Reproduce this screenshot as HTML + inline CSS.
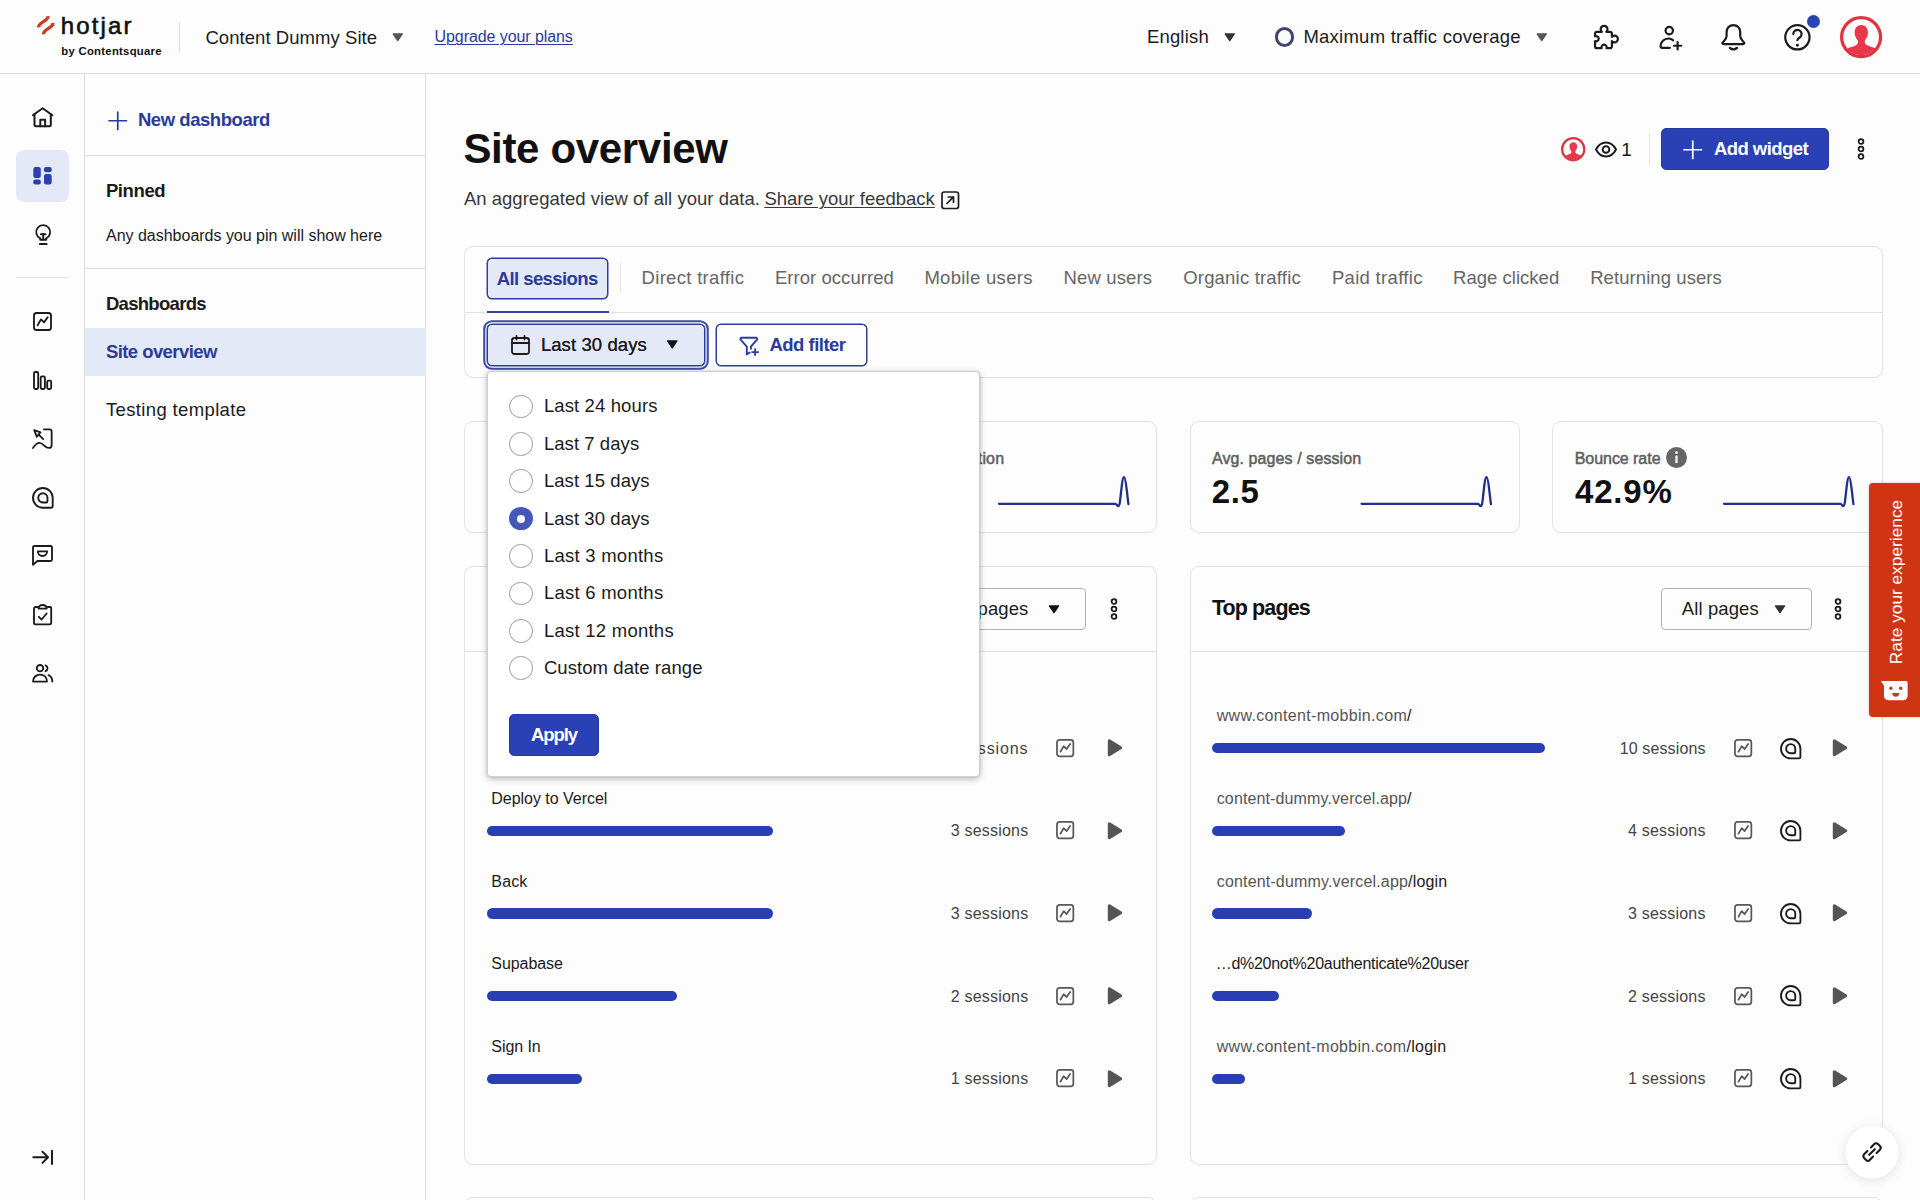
<!DOCTYPE html>
<html lang="en">
<head>
<meta charset="utf-8">
<title>Site overview - Hotjar</title>
<style>
*{box-sizing:border-box;margin:0;padding:0}
html,body{width:1920px;height:1200px;overflow:hidden;background:#fdfdfd}
body{font-family:"Liberation Sans",Arial,sans-serif;color:#1b1b1b;position:relative;-webkit-font-smoothing:antialiased}
.layer{position:absolute;left:0;top:0;width:1920px;height:1200px}
.t{position:absolute;white-space:nowrap;line-height:1;font-weight:400;margin:0;display:block}
h1.t,h2.t{font-weight:700}
.ic{position:absolute;overflow:visible;display:block}
.b{position:absolute;display:block}
.hl{position:absolute;height:1px;background:#e0e0e0}
.vl{position:absolute;width:1px;background:#e0e0e0}
.card{position:absolute;border:1px solid #e2e2e2;border-radius:9px;background:#fdfdfd}
.bar{position:absolute;height:10.5px;border-radius:6px;background:#2a3eb3}
.radio{position:absolute;width:23.5px;height:23.5px;border-radius:50%;border:1.5px solid #9a9a9a;background:#fff}
.radio.on{border:none;background:#4657bc}
.radio.on::after{content:"";position:absolute;left:7.75px;top:7.75px;width:8px;height:8px;border-radius:50%;background:#fff}
</style>
</head>
<body>
<main class="layer">
<header class="layer" aria-label="Page heading">
<svg class="ic" style="left:1560.6px;top:136.8px" width="24.4" height="24.4" viewBox="0 0 43 43"><defs><clipPath id="av1572"><circle cx="21.500" cy="21.500" r="17.92"/></clipPath></defs><circle cx="21.500" cy="21.500" r="19.56" fill="#fff" stroke="#e2323f" stroke-width="3.88"/><g clip-path="url(#av1572)" fill="#e8364a" stroke="none"><path d="M21.700 9.300C17.700 9.300 14.900 12.500 14.900 16.800c0 3.200 1.300 6 3.300 7.800v2.900c0 1.500-2.200 2.800-7.500 4.300-3.200 1-4.600 2.200-4.600 4.700V44h31.800v-7.500c0-2.500-1.400-3.700-4.700-4.700-5.200-1.500-7.900-2.800-7.900-4.300v-2.900c1.900-1.800 3.200-4.600 3.200-7.800 0-4.300-2.800-7.500-6.800-7.500z"/></g></svg>
<svg class="ic" style="left:1595px;top:140.5px" width="22" height="17" viewBox="0 0 22 17" fill="none" stroke="#1b1b1b" stroke-width="2" stroke-linecap="round" stroke-linejoin="round" ><path d="M1 8.500C3.300 4 6.800 1.500 11 1.500S18.700 4 21 8.500c-2.300 4.500-5.800 7-10 7S3.300 13 1 8.500z"/><circle cx="11" cy="8.500" r="3.300"/></svg>
<div class="b" style="left:1648.5px;top:133px;width:1px;height:32px;background:#e4e4e4"></div>
<div class="b" style="left:1661px;top:128px;width:168px;height:42.1px;background:#2a40b5;border:1px solid #2a3a9f;border-radius:5px"></div>
<svg class="ic" style="left:1682.5px;top:139.5px" width="19.5" height="19.5" viewBox="0 0 19.5 19.5" fill="none" stroke="#fff" stroke-width="1.7" stroke-linecap="round" stroke-linejoin="round" ><path d="M9.75 1v17.5"/><path d="M1 9.75h17.5"/></svg>
<svg class="ic" style="left:1857px;top:138px" width="8" height="22" viewBox="0 0 8 22" fill="none" stroke="#1b1b1b" stroke-width="1.8" stroke-linecap="round" stroke-linejoin="round" ><circle cx="4" cy="3.500" r="2.400"/><circle cx="4" cy="11" r="2.400"/><circle cx="4" cy="18.500" r="2.400"/></svg>
<svg class="ic" style="left:941px;top:190.5px" width="18.5" height="18.5" viewBox="0 0 18.5 18.5" fill="none" stroke="#1b1b1b" stroke-width="1.7" stroke-linecap="round" stroke-linejoin="round" ><rect x="1" y="1" width="16.500" height="16.500" rx="2.300"/><path d="M6 12.500l6.300-6.300"/><path d="M7.300 6h5.200v5.200"/></svg>
<h1 class="t" id="h1" style="left:463.40px;top:128.45px;font-size:42px;font-weight:700;color:#111;letter-spacing:-0.328px;">Site overview</h1>
<span class="t" id="sub1" style="left:463.89px;top:190.14px;font-size:18.5px;font-weight:400;color:#383838;letter-spacing:0.024px;">An aggregated view of all your data.</span>
<a class="t" id="sub2" style="left:764.39px;top:190.14px;font-size:18.5px;font-weight:400;color:#383838;letter-spacing:-0.020px;text-decoration:underline;text-underline-offset:1.5px;text-decoration-thickness:1.4px;">Share your feedback</a>
<span class="t" id="eye1" style="left:1621.36px;top:139.92px;font-size:19px;font-weight:400;color:#1b1b1b;letter-spacing:-0.488px;">1</span>
<span class="t" id="addw" style="left:1713.90px;top:140.14px;font-size:18.5px;font-weight:700;color:#fff;letter-spacing:-0.549px;">Add widget</span>
</header>
<section class="layer" aria-label="Filters">
<div class="card" style="left:464px;top:246px;width:1419px;height:132px;"></div>
<div class="b" style="left:465px;top:312px;width:1417px;height:1px;background:#e2e2e2"></div>
<div class="b" style="left:487px;top:257.6px;width:121.4px;height:41.6px;background:#e4e9f8;border:1px solid #303d98;box-shadow:0 0 0 .5px #303d98;border-radius:5px"></div>
<div class="b" style="left:486.6px;top:310.6px;width:122.2px;height:2.2px;background:#3243a8"></div>
<div class="b" style="left:619.5px;top:262px;width:1px;height:32px;background:#e6e6e6"></div>
<div class="b" style="left:487px;top:324px;width:218.1px;height:42.4px;background:#e4e9f8;border:1px solid #303d98;border-radius:5px;box-shadow:0 0 0 .5px #303d98,0 0 0 1.7px #fff,0 0 0 3.8px #3b4baa"></div>
<svg class="ic" style="left:510.5px;top:334.6px" width="19" height="20" viewBox="0 0 19 20" fill="none" stroke="#1b1b1b" stroke-width="1.8" stroke-linecap="round" stroke-linejoin="round" ><rect x="1" y="3" width="17" height="16" rx="2.400"/><path d="M1 8h17"/><path d="M5.500 1v3.600"/><path d="M13.500 1v3.600"/></svg>
<svg class="ic" style="left:666px;top:340px" width="12.5" height="8.8" viewBox="0 0 12 9" fill="#111" stroke="#111" stroke-width="1.4" stroke-linecap="round" stroke-linejoin="round" ><path d="M1.2 1h9.6L6 8z"/></svg>
<div class="b" style="left:716.2px;top:324px;width:150.6px;height:42.4px;background:#fdfdfd;border:1px solid #303d98;box-shadow:0 0 0 .5px #303d98;border-radius:5px"></div>
<svg class="ic" style="left:738.5px;top:336px" width="21" height="20.5" viewBox="0 0 21 20.5" fill="none" stroke="#2b3b9a" stroke-width="1.9" stroke-linecap="round" stroke-linejoin="round" ><path d="M7.800 18.200V10.600L1.800 3.900a1.200 1.200 0 0 1 .9-2.100H16.900a1.200 1.200 0 0 1 .9 2.100L11.900 10.600v2.200"/><path d="M7.800 18.200l2.900-1.600"/><path d="M16.100 13.100v6"/><path d="M13.100 16.100h6"/></svg>
<span class="t" id="tab0" style="left:496.70px;top:269.64px;font-size:18.5px;font-weight:700;color:#2b3b9a;letter-spacing:-0.572px;">All sessions</span>
<span class="t" id="tab1" style="left:641.59px;top:269.44px;font-size:18.5px;font-weight:400;color:#666666;letter-spacing:0.305px;">Direct traffic</span>
<span class="t" id="tab2" style="left:774.89px;top:269.44px;font-size:18.5px;font-weight:400;color:#666666;letter-spacing:0.057px;">Error occurred</span>
<span class="t" id="tab3" style="left:924.39px;top:269.44px;font-size:18.5px;font-weight:400;color:#666666;letter-spacing:0.287px;">Mobile users</span>
<span class="t" id="tab4" style="left:1063.59px;top:269.44px;font-size:18.5px;font-weight:400;color:#666666;letter-spacing:0.138px;">New users</span>
<span class="t" id="tab5" style="left:1183.19px;top:269.44px;font-size:18.5px;font-weight:400;color:#666666;letter-spacing:0.195px;">Organic traffic</span>
<span class="t" id="tab6" style="left:1331.89px;top:269.44px;font-size:18.5px;font-weight:400;color:#666666;letter-spacing:0.314px;">Paid traffic</span>
<span class="t" id="tab7" style="left:1453.09px;top:269.44px;font-size:18.5px;font-weight:400;color:#666666;letter-spacing:0.018px;">Rage clicked</span>
<span class="t" id="tab8" style="left:1590.19px;top:269.44px;font-size:18.5px;font-weight:400;color:#666666;letter-spacing:0.076px;">Returning users</span>
<span class="t" id="l30" style="left:540.89px;top:336.14px;font-size:18.5px;font-weight:400;color:#1b1b1b;letter-spacing:0.086px;">Last 30 days</span>
<span class="t" id="addf" style="left:769.50px;top:336.14px;font-size:18.5px;font-weight:700;color:#2b3b9a;letter-spacing:-0.520px;">Add filter</span>
</section>
<section class="layer" aria-label="Key metrics">
<div class="card" style="left:464px;top:421px;width:331px;height:112px;"></div>
<div class="card" style="left:826px;top:421px;width:331px;height:112px;"></div>
<div class="card" style="left:1190px;top:421px;width:330px;height:112px;"></div>
<div class="card" style="left:1552px;top:421px;width:331px;height:112px;"></div>
<svg class="ic" style="left:0;top:0" width="1920" height="1200" viewBox="0 0 1920 1200" fill="none" stroke="#222f88" stroke-width="2.3" stroke-linecap="round" stroke-linejoin="round"><path d="M636.6 503.850H753.00c1.200 0 1.600 2.150 2.700 2.150 1.600 0 2-6.500 2.900-14.400 .950-8.300 1.750-14.400 2.950-14.400 1.200 0 1.900 6 2.600 12l1.750 15"/></svg>
<svg class="ic" style="left:0;top:0" width="1920" height="1200" viewBox="0 0 1920 1200" fill="none" stroke="#222f88" stroke-width="2.3" stroke-linecap="round" stroke-linejoin="round"><path d="M999.0 503.850H1115.50c1.200 0 1.600 2.150 2.700 2.150 1.600 0 2-6.500 2.900-14.400 .950-8.300 1.750-14.400 2.950-14.400 1.200 0 1.900 6 2.600 12l1.750 15"/></svg>
<svg class="ic" style="left:0;top:0" width="1920" height="1200" viewBox="0 0 1920 1200" fill="none" stroke="#222f88" stroke-width="2.3" stroke-linecap="round" stroke-linejoin="round"><path d="M1361.6 503.850H1478.00c1.200 0 1.600 2.150 2.700 2.150 1.600 0 2-6.500 2.900-14.400 .950-8.300 1.750-14.400 2.950-14.400 1.200 0 1.900 6 2.600 12l1.750 15"/></svg>
<svg class="ic" style="left:0;top:0" width="1920" height="1200" viewBox="0 0 1920 1200" fill="none" stroke="#222f88" stroke-width="2.3" stroke-linecap="round" stroke-linejoin="round"><path d="M1724.0 503.850H1840.50c1.200 0 1.600 2.150 2.700 2.150 1.600 0 2-6.500 2.900-14.400 .950-8.300 1.750-14.400 2.950-14.400 1.200 0 1.900 6 2.600 12l1.750 15"/></svg>
<svg class="ic" style="left:1666.1px;top:447.3px" width="21.0" height="21.0" viewBox="0 0 21.0 21.0"><circle cx="10.5" cy="10.5" r="10.5" fill="#666"/><circle cx="10.5" cy="5.7" r="1.350" fill="#fff"/><rect x="9.4" y="8.4" width="2.200" height="7.600" rx=".6" fill="#fff"/></svg>
<span class="t" id="s1l" style="left:494.04px;top:450.66px;font-size:16px;font-weight:400;color:#606060;letter-spacing:-0.270px;-webkit-text-stroke:0.5px #5e5e5e;">Sessions</span>
<span class="t" id="s1v" style="left:493.02px;top:475.27px;font-size:33px;font-weight:700;color:#111;letter-spacing:-0.044px;">21</span>
<span class="t" id="s2l" style="left:848.70px;top:450.66px;font-size:16px;font-weight:400;color:#606060;letter-spacing:0.134px;-webkit-text-stroke:0.5px #5e5e5e;">Avg. session duration</span>
<span class="t" id="s2v" style="left:847.02px;top:475.27px;font-size:33px;font-weight:700;color:#111;letter-spacing:-1.218px;">1m 12s</span>
<span class="t" id="s3l" style="left:1211.90px;top:450.66px;font-size:16px;font-weight:400;color:#606060;letter-spacing:0.102px;-webkit-text-stroke:0.5px #5e5e5e;">Avg. pages / session</span>
<span class="t" id="s3v" style="left:1211.80px;top:475.27px;font-size:33px;font-weight:700;color:#111;letter-spacing:0.575px;">2.5</span>
<span class="t" id="s4l" style="left:1574.70px;top:450.66px;font-size:16px;font-weight:400;color:#606060;letter-spacing:-0.044px;-webkit-text-stroke:0.5px #5e5e5e;">Bounce rate</span>
<span class="t" id="s4v" style="left:1575.00px;top:475.27px;font-size:33px;font-weight:700;color:#111;letter-spacing:0.804px;">42.9%</span>
</section>
<section class="layer" aria-label="Top clicked elements">
<div class="card" style="left:464px;top:566px;width:693px;height:599px;"></div>
<div class="b" style="left:465px;top:651px;width:691px;height:1px;background:#e2e2e2"></div>
<div class="b" style="left:936px;top:588px;width:150px;height:41.7px;border:1px solid #b2b2b2;border-radius:4px;background:#fdfdfd"></div>
<svg class="ic" style="left:1047.5px;top:604.5px" width="12" height="8.6" viewBox="0 0 12 9" fill="#111" stroke="#111" stroke-width="1.4" stroke-linecap="round" stroke-linejoin="round" ><path d="M1.2 1h9.6L6 8z"/></svg>
<svg class="ic" style="left:1109.5px;top:597.6px" width="8" height="22" viewBox="0 0 8 22" fill="none" stroke="#1b1b1b" stroke-width="1.8" stroke-linecap="round" stroke-linejoin="round" ><circle cx="4" cy="3.500" r="2.400"/><circle cx="4" cy="11" r="2.400"/><circle cx="4" cy="18.500" r="2.400"/></svg>
<div class="bar" style="left:487px;top:742.95px;width:380px"></div>
<svg class="ic" style="left:1056.2px;top:738.8000000000001px" width="18.3" height="18.3" viewBox="0 0 19 19" fill="none" stroke="#585858" stroke-width="1.8" stroke-linecap="round" stroke-linejoin="round" ><rect x="1" y="1" width="17" height="17" rx="2.6"/><path d="M4.600 13.200 8 7.400l3 3 3.700-5.200"/></svg>
<svg class="ic" style="left:1106.8px;top:738.1px" width="16.8" height="19.6" viewBox="0 0 17.5 20.5" fill="#555" stroke="#555" stroke-width="3.2" stroke-linecap="round" stroke-linejoin="round" ><path d="M2.400 3v14.500l11.900-7.250z"/></svg>
<div class="bar" style="left:487px;top:825.60px;width:285.6px"></div>
<svg class="ic" style="left:1056.2px;top:821.45px" width="18.3" height="18.3" viewBox="0 0 19 19" fill="none" stroke="#585858" stroke-width="1.8" stroke-linecap="round" stroke-linejoin="round" ><rect x="1" y="1" width="17" height="17" rx="2.6"/><path d="M4.600 13.200 8 7.400l3 3 3.700-5.200"/></svg>
<svg class="ic" style="left:1106.8px;top:820.75px" width="16.8" height="19.6" viewBox="0 0 17.5 20.5" fill="#555" stroke="#555" stroke-width="3.2" stroke-linecap="round" stroke-linejoin="round" ><path d="M2.400 3v14.500l11.900-7.250z"/></svg>
<div class="bar" style="left:487px;top:908.25px;width:285.6px"></div>
<svg class="ic" style="left:1056.2px;top:904.1px" width="18.3" height="18.3" viewBox="0 0 19 19" fill="none" stroke="#585858" stroke-width="1.8" stroke-linecap="round" stroke-linejoin="round" ><rect x="1" y="1" width="17" height="17" rx="2.6"/><path d="M4.600 13.200 8 7.400l3 3 3.700-5.200"/></svg>
<svg class="ic" style="left:1106.8px;top:903.4px" width="16.8" height="19.6" viewBox="0 0 17.5 20.5" fill="#555" stroke="#555" stroke-width="3.2" stroke-linecap="round" stroke-linejoin="round" ><path d="M2.400 3v14.500l11.900-7.250z"/></svg>
<div class="bar" style="left:487px;top:990.90px;width:190.4px"></div>
<svg class="ic" style="left:1056.2px;top:986.7500000000001px" width="18.3" height="18.3" viewBox="0 0 19 19" fill="none" stroke="#585858" stroke-width="1.8" stroke-linecap="round" stroke-linejoin="round" ><rect x="1" y="1" width="17" height="17" rx="2.6"/><path d="M4.600 13.200 8 7.400l3 3 3.700-5.200"/></svg>
<svg class="ic" style="left:1106.8px;top:986.0500000000001px" width="16.8" height="19.6" viewBox="0 0 17.5 20.5" fill="#555" stroke="#555" stroke-width="3.2" stroke-linecap="round" stroke-linejoin="round" ><path d="M2.400 3v14.500l11.900-7.250z"/></svg>
<div class="bar" style="left:487px;top:1073.55px;width:95.2px"></div>
<svg class="ic" style="left:1056.2px;top:1069.4px" width="18.3" height="18.3" viewBox="0 0 19 19" fill="none" stroke="#585858" stroke-width="1.8" stroke-linecap="round" stroke-linejoin="round" ><rect x="1" y="1" width="17" height="17" rx="2.6"/><path d="M4.600 13.200 8 7.400l3 3 3.700-5.200"/></svg>
<svg class="ic" style="left:1106.8px;top:1068.7000000000003px" width="16.8" height="19.6" viewBox="0 0 17.5 20.5" fill="#555" stroke="#555" stroke-width="3.2" stroke-linecap="round" stroke-linejoin="round" ><path d="M2.400 3v14.500l11.900-7.250z"/></svg>
<span class="t" id="l30" style="left:540.89px;top:336.14px;font-size:18.5px;font-weight:400;color:#1b1b1b;letter-spacing:0.086px;">Last 30 days</span>
<span class="t" id="c1h" style="left:494.70px;top:598.30px;font-size:21.5px;font-weight:700;color:#111;letter-spacing:-0.129px;">Top clicked elements</span>
<span class="t" id="c1s" style="left:951.39px;top:600.14px;font-size:18.5px;font-weight:400;color:#1b1b1b;letter-spacing:0.103px;">All pages</span>
<span class="t" id="l0a" style="left:491.34px;top:708.46px;font-size:16px;font-weight:400;color:#1b1b1b;letter-spacing:0.482px;">Get started</span>
<span class="t" id="l0b" style="left:944.04px;top:740.76px;font-size:16px;font-weight:400;color:#444;letter-spacing:0.877px;">4 sessions</span>
<span class="t" id="l1a" style="left:491.34px;top:791.11px;font-size:16px;font-weight:400;color:#1b1b1b;letter-spacing:-0.035px;">Deploy to Vercel</span>
<span class="t" id="l1b" style="left:950.84px;top:823.41px;font-size:16px;font-weight:400;color:#444;letter-spacing:0.197px;">3 sessions</span>
<span class="t" id="l2a" style="left:491.34px;top:873.76px;font-size:16px;font-weight:400;color:#1b1b1b;letter-spacing:0.145px;">Back</span>
<span class="t" id="l2b" style="left:950.84px;top:906.06px;font-size:16px;font-weight:400;color:#444;letter-spacing:0.197px;">3 sessions</span>
<span class="t" id="l3a" style="left:491.34px;top:956.41px;font-size:16px;font-weight:400;color:#1b1b1b;letter-spacing:-0.075px;">Supabase</span>
<span class="t" id="l3b" style="left:950.84px;top:988.71px;font-size:16px;font-weight:400;color:#444;letter-spacing:0.197px;">2 sessions</span>
<span class="t" id="l4a" style="left:491.34px;top:1039.06px;font-size:16px;font-weight:400;color:#1b1b1b;letter-spacing:-0.079px;">Sign In</span>
<span class="t" id="l4b" style="left:950.84px;top:1071.36px;font-size:16px;font-weight:400;color:#444;letter-spacing:0.197px;">1 sessions</span>
</section>
<section class="layer" aria-label="Top pages">
<div class="card" style="left:1190px;top:566px;width:693px;height:599px;"></div>
<div class="b" style="left:1191px;top:651px;width:691px;height:1px;background:#e2e2e2"></div>
<div class="b" style="left:1661px;top:588px;width:150.5px;height:41.7px;border:1px solid #b2b2b2;border-radius:4px;background:#fdfdfd"></div>
<svg class="ic" style="left:1773.7px;top:604.5px" width="12" height="8.6" viewBox="0 0 12 9" fill="#333" stroke="#333" stroke-width="1.4" stroke-linecap="round" stroke-linejoin="round" ><path d="M1.2 1h9.6L6 8z"/></svg>
<svg class="ic" style="left:1834.4px;top:597.6px" width="8" height="22" viewBox="0 0 8 22" fill="none" stroke="#1b1b1b" stroke-width="1.8" stroke-linecap="round" stroke-linejoin="round" ><circle cx="4" cy="3.500" r="2.400"/><circle cx="4" cy="11" r="2.400"/><circle cx="4" cy="18.500" r="2.400"/></svg>
<div class="bar" style="left:1212px;top:742.95px;width:333.3px"></div>
<svg class="ic" style="left:1733.7px;top:738.8000000000001px" width="18.3" height="18.3" viewBox="0 0 19 19" fill="none" stroke="#585858" stroke-width="1.8" stroke-linecap="round" stroke-linejoin="round" ><rect x="1" y="1" width="17" height="17" rx="2.6"/><path d="M4.600 13.200 8 7.400l3 3 3.700-5.200"/></svg>
<svg class="ic" style="left:1780px;top:737.5px" width="21.4" height="21.4" viewBox="0 0 22 22" fill="none" stroke="#1b1b1b" stroke-width="1.9" stroke-linecap="round" stroke-linejoin="round" ><path d="M11 1a10 10 0 1 0 0 20h8.600a1.400 1.400 0 0 0 1.400-1.400V11A10 10 0 0 0 11 1z"/><path d="M11 6.300a4.700 4.700 0 1 0 0 9.400h3.400a1.300 1.300 0 0 0 1.300-1.300V11A4.700 4.700 0 0 0 11 6.300z"/></svg>
<svg class="ic" style="left:1832px;top:738.1px" width="16.8" height="19.6" viewBox="0 0 17.5 20.5" fill="#555" stroke="#555" stroke-width="3.2" stroke-linecap="round" stroke-linejoin="round" ><path d="M2.400 3v14.500l11.900-7.250z"/></svg>
<div class="bar" style="left:1212px;top:825.60px;width:133.2px"></div>
<svg class="ic" style="left:1733.7px;top:821.45px" width="18.3" height="18.3" viewBox="0 0 19 19" fill="none" stroke="#585858" stroke-width="1.8" stroke-linecap="round" stroke-linejoin="round" ><rect x="1" y="1" width="17" height="17" rx="2.6"/><path d="M4.600 13.200 8 7.400l3 3 3.700-5.200"/></svg>
<svg class="ic" style="left:1780px;top:820.15px" width="21.4" height="21.4" viewBox="0 0 22 22" fill="none" stroke="#1b1b1b" stroke-width="1.9" stroke-linecap="round" stroke-linejoin="round" ><path d="M11 1a10 10 0 1 0 0 20h8.600a1.400 1.400 0 0 0 1.400-1.400V11A10 10 0 0 0 11 1z"/><path d="M11 6.300a4.700 4.700 0 1 0 0 9.400h3.400a1.300 1.300 0 0 0 1.300-1.300V11A4.700 4.700 0 0 0 11 6.300z"/></svg>
<svg class="ic" style="left:1832px;top:820.75px" width="16.8" height="19.6" viewBox="0 0 17.5 20.5" fill="#555" stroke="#555" stroke-width="3.2" stroke-linecap="round" stroke-linejoin="round" ><path d="M2.400 3v14.500l11.900-7.250z"/></svg>
<div class="bar" style="left:1212px;top:908.25px;width:99.8px"></div>
<svg class="ic" style="left:1733.7px;top:904.1px" width="18.3" height="18.3" viewBox="0 0 19 19" fill="none" stroke="#585858" stroke-width="1.8" stroke-linecap="round" stroke-linejoin="round" ><rect x="1" y="1" width="17" height="17" rx="2.6"/><path d="M4.600 13.200 8 7.400l3 3 3.700-5.200"/></svg>
<svg class="ic" style="left:1780px;top:902.8px" width="21.4" height="21.4" viewBox="0 0 22 22" fill="none" stroke="#1b1b1b" stroke-width="1.9" stroke-linecap="round" stroke-linejoin="round" ><path d="M11 1a10 10 0 1 0 0 20h8.600a1.400 1.400 0 0 0 1.400-1.400V11A10 10 0 0 0 11 1z"/><path d="M11 6.300a4.700 4.700 0 1 0 0 9.400h3.400a1.300 1.300 0 0 0 1.300-1.300V11A4.700 4.700 0 0 0 11 6.300z"/></svg>
<svg class="ic" style="left:1832px;top:903.4px" width="16.8" height="19.6" viewBox="0 0 17.5 20.5" fill="#555" stroke="#555" stroke-width="3.2" stroke-linecap="round" stroke-linejoin="round" ><path d="M2.400 3v14.500l11.900-7.250z"/></svg>
<div class="bar" style="left:1212px;top:990.90px;width:66.6px"></div>
<svg class="ic" style="left:1733.7px;top:986.7500000000001px" width="18.3" height="18.3" viewBox="0 0 19 19" fill="none" stroke="#585858" stroke-width="1.8" stroke-linecap="round" stroke-linejoin="round" ><rect x="1" y="1" width="17" height="17" rx="2.6"/><path d="M4.600 13.200 8 7.400l3 3 3.700-5.200"/></svg>
<svg class="ic" style="left:1780px;top:985.45px" width="21.4" height="21.4" viewBox="0 0 22 22" fill="none" stroke="#1b1b1b" stroke-width="1.9" stroke-linecap="round" stroke-linejoin="round" ><path d="M11 1a10 10 0 1 0 0 20h8.600a1.400 1.400 0 0 0 1.400-1.400V11A10 10 0 0 0 11 1z"/><path d="M11 6.300a4.700 4.700 0 1 0 0 9.400h3.400a1.300 1.300 0 0 0 1.300-1.300V11A4.700 4.700 0 0 0 11 6.300z"/></svg>
<svg class="ic" style="left:1832px;top:986.0500000000001px" width="16.8" height="19.6" viewBox="0 0 17.5 20.5" fill="#555" stroke="#555" stroke-width="3.2" stroke-linecap="round" stroke-linejoin="round" ><path d="M2.400 3v14.500l11.900-7.250z"/></svg>
<div class="bar" style="left:1212px;top:1073.55px;width:33.4px"></div>
<svg class="ic" style="left:1733.7px;top:1069.4px" width="18.3" height="18.3" viewBox="0 0 19 19" fill="none" stroke="#585858" stroke-width="1.8" stroke-linecap="round" stroke-linejoin="round" ><rect x="1" y="1" width="17" height="17" rx="2.6"/><path d="M4.600 13.200 8 7.400l3 3 3.700-5.200"/></svg>
<svg class="ic" style="left:1780px;top:1068.1000000000001px" width="21.4" height="21.4" viewBox="0 0 22 22" fill="none" stroke="#1b1b1b" stroke-width="1.9" stroke-linecap="round" stroke-linejoin="round" ><path d="M11 1a10 10 0 1 0 0 20h8.600a1.400 1.400 0 0 0 1.400-1.400V11A10 10 0 0 0 11 1z"/><path d="M11 6.300a4.700 4.700 0 1 0 0 9.400h3.400a1.300 1.300 0 0 0 1.300-1.300V11A4.700 4.700 0 0 0 11 6.300z"/></svg>
<svg class="ic" style="left:1832px;top:1068.7000000000003px" width="16.8" height="19.6" viewBox="0 0 17.5 20.5" fill="#555" stroke="#555" stroke-width="3.2" stroke-linecap="round" stroke-linejoin="round" ><path d="M2.400 3v14.500l11.900-7.250z"/></svg>
<span class="t" id="c2h" style="left:1211.90px;top:598.30px;font-size:21.5px;font-weight:700;color:#111;letter-spacing:-0.891px;">Top pages</span>
<span class="t" id="c2s" style="left:1681.79px;top:600.14px;font-size:18.5px;font-weight:400;color:#1b1b1b;letter-spacing:0.103px;">All pages</span>
<span class="t" id="r0a" style="left:1216.74px;top:708.46px;font-size:16px;font-weight:400;color:#1b1b1b;letter-spacing:0.323px;"><span style="color:#555">www.content-mobbin.com</span>/</span>
<span class="t" id="r0b" style="left:1619.64px;top:740.76px;font-size:16px;font-weight:400;color:#444;letter-spacing:0.133px;">10 sessions</span>
<span class="t" id="r1a" style="left:1216.74px;top:791.11px;font-size:16px;font-weight:400;color:#1b1b1b;letter-spacing:0.124px;"><span style="color:#555">content-dummy.vercel.app</span>/</span>
<span class="t" id="r1b" style="left:1628.04px;top:823.41px;font-size:16px;font-weight:400;color:#444;letter-spacing:0.197px;">4 sessions</span>
<span class="t" id="r2a" style="left:1216.74px;top:873.76px;font-size:16px;font-weight:400;color:#1b1b1b;letter-spacing:0.166px;"><span style="color:#555">content-dummy.vercel.app</span>/login</span>
<span class="t" id="r2b" style="left:1628.04px;top:906.06px;font-size:16px;font-weight:400;color:#444;letter-spacing:0.197px;">3 sessions</span>
<span class="t" id="r3a" style="left:1215.70px;top:956.41px;font-size:16px;font-weight:400;color:#1b1b1b;letter-spacing:-0.282px;">…d%20not%20authenticate%20user</span>
<span class="t" id="r3b" style="left:1628.04px;top:988.71px;font-size:16px;font-weight:400;color:#444;letter-spacing:0.197px;">2 sessions</span>
<span class="t" id="r4a" style="left:1216.74px;top:1039.06px;font-size:16px;font-weight:400;color:#1b1b1b;letter-spacing:0.294px;"><span style="color:#555">www.content-mobbin.com</span>/login</span>
<span class="t" id="r4b" style="left:1628.04px;top:1071.36px;font-size:16px;font-weight:400;color:#444;letter-spacing:0.197px;">1 sessions</span>
</section>
<section class="layer" aria-label="More widgets">
<div class="card" style="left:464px;top:1197px;width:693px;height:200px;"></div>
<div class="card" style="left:1190px;top:1197px;width:693px;height:200px;"></div>
</section>
</main>
<div class="layer" role="listbox"><div class="b" style="left:486.8px;top:371px;width:493.4px;height:406.4px;background:#fff;border:1px solid #cfcfcf;border-radius:4px;box-shadow:0 2px 6px rgba(0,0,0,.28),0 0 2px rgba(0,0,0,.12)"></div>
<span class="radio" style="left:509.25px;top:394.65px"></span>
<span class="radio" style="left:509.25px;top:432.05px"></span>
<span class="radio" style="left:509.25px;top:469.45px"></span>
<span class="radio on" style="left:509.25px;top:506.85px"></span>
<span class="radio" style="left:509.25px;top:544.25px"></span>
<span class="radio" style="left:509.25px;top:581.65px"></span>
<span class="radio" style="left:509.25px;top:619.05px"></span>
<span class="radio" style="left:509.25px;top:656.45px"></span>
<div class="b" style="left:509.3px;top:713.5px;width:89.4px;height:42.3px;background:#2a40b5;border:1px solid #2a3a9f;border-radius:5px"></div>
<span class="t" id="opt0" style="left:543.89px;top:397.44px;font-size:18.5px;font-weight:400;color:#1b1b1b;letter-spacing:0.125px;">Last 24 hours</span>
<span class="t" id="opt1" style="left:543.89px;top:434.84px;font-size:18.5px;font-weight:400;color:#1b1b1b;letter-spacing:0.065px;">Last 7 days</span>
<span class="t" id="opt2" style="left:543.89px;top:472.24px;font-size:18.5px;font-weight:400;color:#1b1b1b;letter-spacing:0.077px;">Last 15 days</span>
<span class="t" id="opt3" style="left:543.89px;top:509.64px;font-size:18.5px;font-weight:400;color:#1b1b1b;letter-spacing:0.077px;">Last 30 days</span>
<span class="t" id="opt4" style="left:543.89px;top:547.04px;font-size:18.5px;font-weight:400;color:#1b1b1b;letter-spacing:0.256px;">Last 3 months</span>
<span class="t" id="opt5" style="left:543.89px;top:584.44px;font-size:18.5px;font-weight:400;color:#1b1b1b;letter-spacing:0.256px;">Last 6 months</span>
<span class="t" id="opt6" style="left:543.89px;top:621.84px;font-size:18.5px;font-weight:400;color:#1b1b1b;letter-spacing:0.252px;">Last 12 months</span>
<span class="t" id="opt7" style="left:543.89px;top:659.24px;font-size:18.5px;font-weight:400;color:#1b1b1b;letter-spacing:0.076px;">Custom date range</span>
<span class="t" id="apply" style="left:530.90px;top:726.04px;font-size:18.5px;font-weight:700;color:#fff;letter-spacing:-1.038px;">Apply</span></div>
<aside class="layer"><div class="b" style="left:85px;top:74px;width:341px;height:1126px;background:#fdfdfd;border-right:1px solid #dcdcdc"></div>
<svg class="ic" style="left:107.5px;top:110.5px" width="19.5" height="19.5" viewBox="0 0 19.5 19.5" fill="none" stroke="#2b3b9a" stroke-width="1.7" stroke-linecap="round" stroke-linejoin="round" ><path d="M9.75 1v17.5"/><path d="M1 9.75h17.5"/></svg>
<div class="b" style="left:85px;top:154.8px;width:340.5px;height:1px;background:#e0e0e0"></div>
<div class="b" style="left:85px;top:268.3px;width:340.5px;height:1px;background:#e0e0e0"></div>
<div class="b" style="left:85px;top:328px;width:340.5px;height:48px;background:#e4e9f8"></div>
<span class="t" id="newdash" style="left:137.89px;top:110.64px;font-size:18.5px;font-weight:700;color:#2b3b9a;letter-spacing:-0.440px;">New dashboard</span>
<span class="t" id="pinned" style="left:105.89px;top:181.54px;font-size:18.5px;font-weight:700;color:#1b1b1b;letter-spacing:-0.389px;">Pinned</span>
<span class="t" id="pinmsg" style="left:106.04px;top:228.46px;font-size:16px;font-weight:400;color:#1b1b1b;letter-spacing:-0.015px;">Any dashboards you pin will show here</span>
<span class="t" id="dash" style="left:105.89px;top:294.54px;font-size:18.5px;font-weight:700;color:#1b1b1b;letter-spacing:-0.692px;">Dashboards</span>
<span class="t" id="sov" style="left:105.89px;top:342.54px;font-size:18.5px;font-weight:700;color:#2b3b9a;letter-spacing:-0.559px;">Site overview</span>
<span class="t" id="tt" style="left:105.89px;top:401.34px;font-size:18.5px;font-weight:400;color:#1b1b1b;letter-spacing:0.364px;">Testing template</span></aside>
<nav class="layer"><div class="b" style="left:0px;top:74px;width:85px;height:1126px;background:#fdfdfd;border-right:1px solid #dcdcdc"></div>
<svg class="ic" style="left:31px;top:105.5px" width="23.3" height="22" viewBox="0 0 23.3 22" fill="none" stroke="#1b1b1b" stroke-width="2" stroke-linecap="round" stroke-linejoin="round" ><path d="M1.900 9.200 11.650 2.300l9.750 6.900"/><path d="M3.500 8.300V18.700a1.500 1.500 0 0 0 1.500 1.500H18.300a1.500 1.500 0 0 0 1.500-1.500V8.300"/><path d="M9.300 20.200V13.800h4.800v6.400"/></svg>
<div class="b" style="left:16.3px;top:149.5px;width:53px;height:52.5px;background:#e4e9f8;border-radius:8px"></div>
<svg class="ic" style="left:33px;top:167px" width="19.4" height="18.7" viewBox="0 0 19.4 18.7" fill="#2c3fb0" stroke="none" stroke-width="0" stroke-linecap="round" stroke-linejoin="round" ><rect x=".3" y="0" width="7.500" height="11" rx="2.100"/><rect x=".3" y="12.600" width="7.500" height="5" rx="2"/><rect x="11" y="0" width="7.700" height="5.300" rx="2"/><rect x="11" y="7" width="7.700" height="10.600" rx="2.100"/></svg>
<svg class="ic" style="left:33.5px;top:223px" width="18.5" height="23" viewBox="0 0 18.5 23" fill="none" stroke="#1b1b1b" stroke-width="1.9" stroke-linecap="round" stroke-linejoin="round" ><path d="M6.200 15.400A7 7 0 1 1 12.200 15.400V16.700H6.200z"/><path d="M6.900 11.300h4.600"/><path d="M9.200 11.300v5.300"/><path d="M5.800 21h6.800"/></svg>
<div class="b" style="left:16px;top:277px;width:52px;height:1px;background:#e0e0e0"></div>
<svg class="ic" style="left:33.2px;top:312px" width="19" height="19" viewBox="0 0 19 19" fill="none" stroke="#1b1b1b" stroke-width="1.85" stroke-linecap="round" stroke-linejoin="round" ><rect x="1" y="1" width="17" height="17" rx="2.6"/><path d="M4.600 13.200 8 7.400l3 3 3.700-5.200"/></svg>
<svg class="ic" style="left:33px;top:370.5px" width="19.5" height="19" viewBox="0 0 19.5 19" fill="none" stroke="#1b1b1b" stroke-width="1.85" stroke-linecap="round" stroke-linejoin="round" ><rect x="1" y="1" width="4.200" height="17" rx="1.400"/><rect x="7.700" y="5.400" width="4.200" height="12.600" rx="1.400"/><rect x="14.200" y="9.600" width="4" height="8.400" rx="1.400"/></svg>
<svg class="ic" style="left:32.3px;top:428.2px" width="21" height="21.5" viewBox="0 0 21 21.5" fill="none" stroke="#1b1b1b" stroke-width="1.8" stroke-linecap="round" stroke-linejoin="round" ><path d="M11.950 1.400H17.600a2.050 2.050 0 0 1 2.050 2.050V17.200c0 1.700-1.150 2.750-2.850 2.750-1.900 0-3.100-.9-4.600-2.400C10.300 15.700 9 14.850 7.100 14.850c-2.600 0-4.100 2.400-6.200 5.200"/><path d="M2.200 2.050 8.500 4.300 4.900 8.800z"/><path d="M6.700 6.550l4.500 4.500"/></svg>
<svg class="ic" style="left:32px;top:486.7px" width="21.7" height="21.7" viewBox="0 0 22 22" fill="none" stroke="#1b1b1b" stroke-width="1.9" stroke-linecap="round" stroke-linejoin="round" ><path d="M11 1a10 10 0 1 0 0 20h8.600a1.400 1.400 0 0 0 1.400-1.400V11A10 10 0 0 0 11 1z"/><path d="M11 6.300a4.700 4.700 0 1 0 0 9.400h3.400a1.300 1.300 0 0 0 1.300-1.300V11A4.700 4.700 0 0 0 11 6.300z"/></svg>
<svg class="ic" style="left:32px;top:545px" width="21" height="21.5" viewBox="0 0 21 21.5" fill="none" stroke="#1b1b1b" stroke-width="1.85" stroke-linecap="round" stroke-linejoin="round" ><path d="M1 2.500A1.500 1.500 0 0 1 2.500 1h16A1.500 1.500 0 0 1 20 2.500v12a1.500 1.500 0 0 1-1.500 1.500H5.400L1 19.800z"/><path d="M5.800 6.300h9.400a4.700 4.700 0 0 1-9.400 0z"/></svg>
<svg class="ic" style="left:33px;top:603.8px" width="19.5" height="21.5" viewBox="0 0 19.5 21.5" fill="none" stroke="#1b1b1b" stroke-width="1.85" stroke-linecap="round" stroke-linejoin="round" ><path d="M5.500 3H2.600A1.600 1.600 0 0 0 1 4.600v14.200a1.600 1.600 0 0 0 1.600 1.600h14a1.600 1.600 0 0 0 1.600-1.600V4.600A1.600 1.600 0 0 0 17.600 3h-2.900"/><path d="M5.500 4.600c0-2 1.600-3.600 4.100-3.600s4.100 1.600 4.100 3.600z"/><path d="M5.800 12.800l2.800 2.700 5-6"/></svg>
<svg class="ic" style="left:32px;top:664px" width="21.5" height="19" viewBox="0 0 21.5 19" fill="none" stroke="#1b1b1b" stroke-width="1.85" stroke-linecap="round" stroke-linejoin="round" ><circle cx="8" cy="4.200" r="3.200"/><path d="M1 17.600c0-4.300 3.100-7 7-7s7 2.700 7 7z"/><path d="M13.500 1.400a3.100 3.100 0 0 1 0 5.800"/><path d="M16.500 11.200c2.400 1 3.800 3.300 3.800 6.400"/></svg>
<svg class="ic" style="left:32px;top:1149px" width="22" height="16.5" viewBox="0 0 22 16.5" fill="none" stroke="#1b1b1b" stroke-width="2" stroke-linecap="round" stroke-linejoin="round" ><path d="M1.300 8.300h14"/><path d="M10.500 2.700 16 8.300l-5.500 5.600"/><path d="M20 1.800v13.100"/></svg></nav>
<header class="layer"><div class="b" style="left:0px;top:0px;width:1920px;height:74px;background:#fdfdfd;border-bottom:1px solid #dcdcdc"></div>
<svg class="ic" style="left:37px;top:16px" width="17.5" height="19.2" viewBox="0 0 17.5 19.2" fill="none" stroke="#cc3a20" stroke-width="3.3" stroke-linecap="round" stroke-linejoin="round" ><path stroke-linecap="butt" d="M11 .15C11.200 2.900 8.700 4.400 6.100 5.800 3.600 7.300 1.400 8.750 1.600 11.500"/><path stroke-linecap="butt" d="M15.950 6.950c.25 2.750-2.350 4.250-4.850 5.650-2.600 1.500-4.800 2.900-4.500 5.700"/></svg>
<div class="b" style="left:178.5px;top:22px;width:1px;height:31px;background:#e0e0e0"></div>
<svg class="ic" style="left:392.2px;top:33.2px" width="11.5" height="8.6" viewBox="0 0 12 9" fill="#555" stroke="#555" stroke-width="1.4" stroke-linecap="round" stroke-linejoin="round" ><path d="M1.2 1h9.6L6 8z"/></svg>
<svg class="ic" style="left:1223.5px;top:33.2px" width="11.5" height="8.6" viewBox="0 0 12 9" fill="#333" stroke="#333" stroke-width="1.4" stroke-linecap="round" stroke-linejoin="round" ><path d="M1.2 1h9.6L6 8z"/></svg>
<div class="b" style="left:1274.5px;top:27.4px;width:19.2px;height:19.2px;border:3.8px solid #43466a;border-radius:50%;background:#fbfbfb"></div>
<svg class="ic" style="left:1535.5px;top:33.2px" width="11.5" height="8.6" viewBox="0 0 12 9" fill="#555" stroke="#555" stroke-width="1.4" stroke-linecap="round" stroke-linejoin="round" ><path d="M1.2 1h9.6L6 8z"/></svg>
<svg class="ic" style="left:1591.5px;top:22.5px" width="28" height="28" viewBox="0 0 28 28" fill="none" stroke="#1b1b1b" stroke-width="2.2" stroke-linecap="round" stroke-linejoin="round" ><path d="M4.90 8.80H9.90A3.4 3.4 0 1 1 14.30 8.80H18.10A1.8 1.8 0 0 1 19.90 10.60V13.80A3.4 3.4 0 1 1 19.90 18.20V23.40A1.8 1.8 0 0 1 18.10 25.20H14.50A2.6 2.6 0 1 0 9.70 25.20H4.90A1.8 1.8 0 0 1 3.10 23.40V18.10A2.6 2.6 0 1 0 3.10 13.30V10.60A1.8 1.8 0 0 1 4.90 8.80Z"/></svg>
<svg class="ic" style="left:1658px;top:24px" width="28" height="28" viewBox="0 0 28 28" fill="none" stroke="#1b1b1b" stroke-width="2.2" stroke-linecap="round" stroke-linejoin="round" ><circle cx="11.25" cy="6.60" r="3.7"/><path d="M15.20 16.30C13.80 15.20 12.40 14.50 10.60 14.50C6.00 14.50 2.60 17.90 2.60 22.20C2.60 23.20 3.20 23.80 4.20 23.80H11.80"/><path d="M19.60 18.10v7.3"/><path d="M16.00 21.75h7.3"/></svg>
<svg class="ic" style="left:1720px;top:22px" width="28" height="30" viewBox="0 0 28 30" fill="none" stroke="#1b1b1b" stroke-width="2.2" stroke-linecap="round" stroke-linejoin="round" ><path d="M13.40 3.05C9.50 3.05 6.60 6.00 6.60 10.00V14.00C6.60 17.00 4.50 18.50 2.80 20.30C1.90 21.20 2.50 22.05 3.60 22.05H23.10C24.20 22.05 24.80 21.20 23.90 20.30C22.20 18.50 20.20 17.00 20.20 14.00V10.00C20.20 6.00 17.30 3.05 13.40 3.05Z"/><path d="M9.90 26.00Q13.40 28.60 17.00 26.00"/></svg>
<svg class="ic" style="left:1783px;top:23px" width="30" height="30" viewBox="0 0 30 30" fill="none" stroke="#1b1b1b" stroke-width="2.2" stroke-linecap="round" stroke-linejoin="round" ><circle cx="14.40" cy="14.30" r="12.15"/><path d="M10.30 11.05a4.15 4.15 0 1 1 6.82 3.18c-1.6 1-2.7 1.500-2.7 2.900"/><circle cx="14.40" cy="22.20" r="1.45" fill="#1b1b1b" stroke="none"/></svg>
<div class="b" style="left:1807px;top:14.7px;width:12.9px;height:12.9px;background:#2b44b4;border-radius:50%"></div>
<svg class="ic" style="left:1840.3000000000002px;top:16.1px" width="42.2" height="42.2" viewBox="0 0 43 43"><defs><clipPath id="av1861"><circle cx="21.500" cy="21.500" r="18.44"/></clipPath></defs><circle cx="21.500" cy="21.500" r="19.82" fill="#fff" stroke="#e2323f" stroke-width="3.36"/><g clip-path="url(#av1861)" fill="#e8364a" stroke="none"><path d="M21.700 9.300C17.700 9.300 14.900 12.500 14.900 16.800c0 3.200 1.300 6 3.300 7.800v2.900c0 1.500-2.200 2.800-7.500 4.300-3.200 1-4.600 2.200-4.600 4.700V44h31.800v-7.500c0-2.500-1.400-3.700-4.700-4.700-5.200-1.500-7.900-2.800-7.900-4.300v-2.900c1.900-1.800 3.200-4.600 3.200-7.800 0-4.300-2.800-7.500-6.800-7.500z"/></g></svg>
<span class="t" id="logo" style="left:60.80px;top:14.08px;font-size:24px;font-weight:400;color:#111;letter-spacing:2.109px;-webkit-text-stroke:0.6px #111;">hotjar</span>
<span class="t" id="logoby" style="left:61.32px;top:45.93px;font-size:11.3px;font-weight:700;color:#111;letter-spacing:0.281px;">by Contentsquare</span>
<span class="t" id="site" style="left:205.39px;top:28.54px;font-size:18.5px;font-weight:400;color:#1b1b1b;letter-spacing:0.058px;">Content Dummy Site</span>
<a class="t" id="upg" style="left:434.54px;top:29.26px;font-size:16px;font-weight:400;color:#2a3a9c;letter-spacing:-0.077px;text-decoration:underline;text-underline-offset:1.5px;text-decoration-thickness:1px;">Upgrade your plans</a>
<span class="t" id="lang" style="left:1146.89px;top:28.34px;font-size:18.5px;font-weight:400;color:#1b1b1b;letter-spacing:0.192px;">English</span>
<span class="t" id="cov" style="left:1303.39px;top:28.34px;font-size:18.5px;font-weight:400;color:#1b1b1b;letter-spacing:0.253px;">Maximum traffic coverage</span></header>
<div class="layer"><div class="b" style="left:1869px;top:482.7px;width:56px;height:234px;background:#cf3413;border-radius:4px 0 0 4px;box-shadow:0 0 3px rgba(0,0,0,.2)"></div>
<svg class="ic" style="left:1881.300px;top:680.600px" width="26.600" height="19.300" viewBox="0 0 27 18.500" preserveAspectRatio="none"><path d="M0 0h25.500c.8 0 1.500.7 1.500 1.500v13c0 2.200-1.800 4-4 4H7c-2.200 0-4-1.800-4-4V4.500z" fill="#fff"/><circle cx="10" cy="7" r="1.700" fill="#d0341a"/><circle cx="20" cy="7" r="1.700" fill="#d0341a"/><path d="M11.500 11.500h7a3.500 3.500 0 0 1-7 0z" fill="#d0341a"/></svg>
<span class="t" id="rate" style="left:1897px;top:581.7px;font-size:17.3px;color:#fff;transform:translate(-50%,-50%) rotate(-90deg);">Rate your experience</span>
<div class="b" style="left:1845px;top:1125.4px;width:54px;height:54px;background:#fff;border-radius:50%;box-shadow:0 2px 12px rgba(0,0,0,.10),0 0 2px rgba(0,0,0,.06)"></div>
<svg class="ic" style="left:1860.2px;top:1140px" width="24" height="24" viewBox="0 0 24 24" fill="none" stroke="#1b1b1b" stroke-width="2.1" stroke-linecap="round" stroke-linejoin="round" ><g transform="translate(12 12) rotate(-45)"><path d="M2.500-4H7.200a2.600 2.600 0 0 1 2.600 2.600v2.800a2.600 2.600 0 0 1-2.600 2.600H2.500"/><path d="M-2.500-4H-7.200a2.600 2.600 0 0 0-2.600 2.600v2.800a2.600 2.600 0 0 0 2.600 2.600H-2.500"/><path d="M-4 0H4"/></g></svg></div>
</body>
</html>
